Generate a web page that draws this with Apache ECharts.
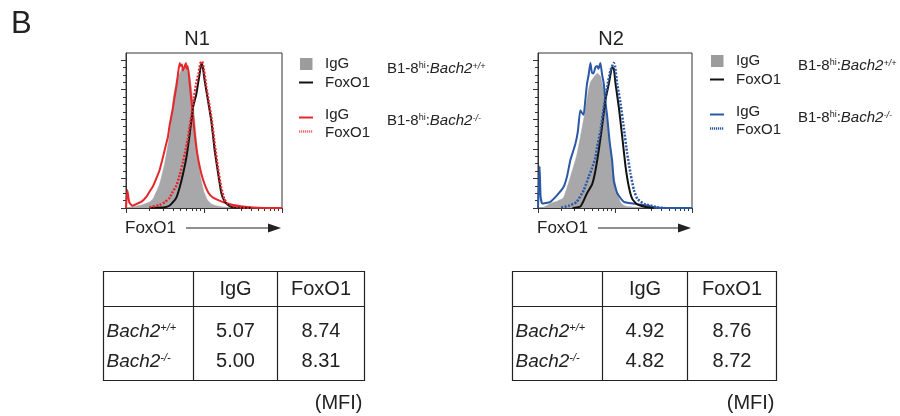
<!DOCTYPE html>
<html>
<head>
<meta charset="utf-8">
<script src="https://cdn.jsdelivr.net/npm/echarts@6/dist/echarts.min.js"></script>
<style>
  html, body { margin: 0; padding: 0; background: #fff; }
  #chart { width: 900px; height: 416px; }
</style>
</head>
<body>
<div id="chart"></div>
<script>
// histogram curves: [FoxO1 intensity, % of max]
const n1IgGWT = [[1, 0], [1.12, 0.5], [1.58, 2], [2.0, 4], [2.21, 6], [2.69, 16], [3.13, 30], [3.63, 50], [4.0, 73], [4.42, 86], [4.88, 91], [5.2, 94], [5.62, 93], [6.0, 96], [6.24, 95], [6.56, 90], [6.89, 82], [7.59, 60], [8.32, 36], [9.12, 20], [10, 11], [11.2, 5], [12.6, 2.5], [15.8, 1], [22.4, 0.3], [39.8, 0], [100, 0]]
const n1IgGKO = [[1.0, 0], [1.04, 12], [1.1, 4], [1.2, 1.5], [1.4, 3], [1.6, 4.5], [1.82, 7.5], [2.0, 11], [2.21, 14.5], [2.45, 20], [2.69, 25.5], [2.9, 32], [3.13, 39], [3.3, 44], [3.45, 48], [3.6, 55], [3.81, 62], [3.95, 66], [4.2, 75], [4.45, 83], [4.65, 91], [4.88, 98], [5.0, 96], [5.2, 97], [5.38, 93], [5.6, 95], [5.85, 98], [6.0, 94], [6.2, 96], [6.56, 84], [6.9, 72], [7.24, 62], [7.6, 50], [7.98, 41], [8.5, 32], [9.27, 23], [10.2, 16], [11.5, 10], [13.1, 7], [17.6, 4], [23.7, 2], [38.9, 0.5], [60, 0], [100, 0]]
const n1FoxWT = [[2.0, 0], [3.16, 0.5], [3.63, 1.7], [4.0, 3.9], [4.42, 7], [4.88, 14], [5.38, 23], [5.94, 34], [6.56, 50], [7.24, 68], [7.98, 77], [8.81, 91], [9.27, 98], [9.66, 95], [10.2, 86], [11.3, 72], [12.4, 59], [13.7, 39], [15.2, 23], [16.7, 10], [18.5, 4.2], [21.4, 1.3], [25, 0.4], [40, 0]]
const n1FoxKO = [[2.0, 0.5], [2.69, 2], [3.16, 4], [3.63, 7], [3.98, 11], [4.42, 15], [4.88, 22], [5.37, 31], [5.75, 38], [6.17, 46], [6.56, 55], [6.92, 63], [7.41, 74], [7.94, 84], [8.51, 91], [9.02, 98], [9.44, 99], [10, 93], [10.7, 82], [11.5, 72], [12.6, 59], [13.8, 42], [15.1, 27], [16.6, 14], [18.2, 6], [20, 3], [22.9, 1.5], [28.2, 0.5], [39.8, 0]]

const n2IgGWT = [[1, 0], [1.18, 0.5], [1.45, 3], [1.74, 4.5], [2.14, 7], [2.63, 21], [3.16, 35], [3.55, 48], [3.98, 62], [4.47, 78], [4.79, 85], [5.25, 88], [5.89, 91], [6.46, 89], [7.08, 80], [7.94, 58], [8.71, 40], [9.55, 24], [10.5, 12], [11.75, 4], [13.2, 1.5], [17.8, 0.5], [31.6, 0], [100, 0]]
const n2IgGKO = [[1.0, 0], [1.05, 28], [1.08, 8], [1.135, 3], [1.43, 4], [1.75, 8.4], [2.14, 14], [2.4, 22], [2.62, 32], [3.05, 43], [3.3, 52], [3.54, 66], [3.75, 64], [3.92, 63], [4.1, 72], [4.33, 84], [4.55, 90], [4.79, 98], [5.05, 91], [5.28, 91], [5.55, 95], [5.85, 96], [6.1, 94], [6.46, 98], [6.8, 90], [7.15, 84], [7.5, 72], [7.91, 62], [8.51, 45], [9.18, 32], [9.66, 18], [10.7, 10], [13.0, 4.2], [19.5, 2.6], [26.3, 1.7], [32.4, 0.5], [40, 0], [100, 0]]
const n2FoxWT = [[2.82, 0], [3.55, 1], [3.92, 5], [4.33, 10], [5.04, 16], [5.56, 25], [6.15, 39], [6.79, 55], [7.52, 73], [8.32, 84], [9.18, 95], [9.66, 94], [10.16, 84], [11.22, 68], [12.42, 48], [13.71, 28], [15.17, 14], [16.75, 6.2], [19.5, 2.4], [25.1, 0.7], [31.6, 0]]
const n2FoxKO = [[2.0, 0.3], [2.51, 1.5], [3.16, 4], [3.92, 12], [4.55, 21], [5.04, 27], [5.56, 34], [5.85, 41], [6.46, 52], [7.15, 68], [7.91, 82], [8.73, 93], [9.66, 98], [10.0, 96], [10.67, 84], [11.8, 70.6], [13.03, 54], [14.42, 36.7], [15.96, 23], [17.62, 12], [19.5, 6.2], [23.8, 2.8], [29.1, 1.7], [35.5, 0.5], [44.7, 0]]

const panelTitles = ['N1', 'N2']
const markers = ['IgG', 'FoxO1']
const genotypes = ['+/+', '-/-']
const n1Mfi = [[5.07, 8.74], [5.00, 8.31]]
const n2Mfi = [[4.92, 8.76], [4.82, 8.72]]

const majorX = [1, 10, 100]
const minorX = [2, 3, 4, 5, 6, 7, 8, 9, 20, 30, 40, 50, 60, 70, 80, 90]
const majorY = [0, 20, 40, 60, 80, 100]
const minorY = [5, 10, 15, 25, 30, 35, 45, 50, 55, 65, 70, 75, 85, 90, 95]

const FONT = '"Liberation Sans", Arial, Helvetica, sans-serif'
const INK = '#222'
const GRAY = '#a8a8aa'
const RED = '#e5262b'
const PINK = '#f06a6a'
const BLUE = '#2b58a6'

const grids = [
  { left: 126, top: 53, width: 156, height: 155 },
  { left: 538, top: 53, width: 154, height: 155 },
]

const xAxes = []
const yAxes = []
grids.forEach((g, gi) => {
  const xb = { type: 'log', logBase: 10, min: 1, max: 100, gridIndex: gi, position: 'bottom',
    axisLabel: { show: false }, splitLine: { show: false } }
  xAxes.push({ ...xb, axisLine: { lineStyle: { color: '#333', width: 1 } },
    axisTick: { customValues: majorX, length: 5, lineStyle: { color: '#333' } } })
  xAxes.push({ ...xb, axisLine: { show: false },
    axisTick: { customValues: minorX, length: 3, lineStyle: { color: '#333' } } })
  const yb = { type: 'value', min: 0, max: 104.7, gridIndex: gi, position: 'left',
    axisLabel: { show: false }, splitLine: { show: false } }
  yAxes.push({ ...yb, axisLine: { show: true, lineStyle: { color: '#333', width: 1 } },
    axisTick: { customValues: majorY, length: 5, lineStyle: { color: '#333' } } })
  yAxes.push({ ...yb, axisLine: { show: false },
    axisTick: { customValues: minorY, length: 3, lineStyle: { color: '#333' } } })
})

const line = (data, gi, color, width, type) => ({
  type: 'line', data, xAxisIndex: gi * 2, yAxisIndex: gi * 2,
  symbol: 'none', smooth: 0.15,
  lineStyle: { color, width, type },
})

const series = [
  { ...line(n1IgGWT, 0, GRAY, 0.5, 'solid'), areaStyle: { color: GRAY, opacity: 1 } },
  line(n1IgGKO, 0, RED, 2, 'solid'),
  line(n1FoxWT, 0, '#111', 2, 'solid'),
  line(n1FoxKO, 0, RED, 2.5, [2, 1.5]),
  { ...line(n2IgGWT, 1, GRAY, 0.5, 'solid'), areaStyle: { color: GRAY, opacity: 1 } },
  line(n2IgGKO, 1, BLUE, 2, 'solid'),
  line(n2FoxWT, 1, '#111', 2, 'solid'),
  line(n2FoxKO, 1, BLUE, 2.5, [2, 1.5]),
]

// text helpers
const txt = (text, x, y, size, align, extra) => ({
  type: 'text', x, y, silent: true,
  style: Object.assign({ text, fontSize: size, fontFamily: FONT, fill: INK,
    textAlign: align || 'left', textVerticalAlign: 'middle' }, extra || {}),
})
const geno = (g, size, prefix) => {
  const sup = Math.round(size * 0.6)
  return {
    text: (prefix ? '{n|B1-8}{s|hi}{n|:}' : '') + '{i|Bach2}{si|' + g + '}',
    rich: {
      n: { fontSize: size, fontFamily: FONT, fill: INK },
      s: { fontSize: sup, fontFamily: FONT, fill: INK, verticalAlign: 'top' },
      i: { fontSize: size, fontFamily: FONT, fill: INK, fontStyle: 'italic' },
      si: { fontSize: sup, fontFamily: FONT, fill: INK, fontStyle: 'italic', verticalAlign: 'top' },
    },
  }
}
const seg = (x1, y1, x2, y2, color, width, dash) => ({
  type: 'line', silent: true, shape: { x1, y1, x2, y2 },
  style: { stroke: color, lineWidth: width, lineDash: dash || null },
})

const graphic = [txt('B', 11, 24, 31)]

// titles, axis names, arrows
const titleX = [197, 611]
const legendX = [299, 710]
const legendDy = [0, -3]
const koColor = [[RED, PINK], [BLUE, BLUE]]
grids.forEach((g, gi) => {
  graphic.push(txt(panelTitles[gi], titleX[gi], 39, 20, 'center'))
  graphic.push(txt('FoxO1', g.left - 1, 228, 17))
  const ax0 = g.left + 60, ax1 = g.left + g.width - 1
  graphic.push(seg(ax0, 228, ax1 - 10, 228, INK, 1.2))
  graphic.push({ type: 'polygon', silent: true,
    shape: { points: [[ax1 - 13, 223.5], [ax1, 228], [ax1 - 13, 232.5]] }, style: { fill: INK } })

  const lx = legendX[gi], dy = legendDy[gi]
  graphic.push({ type: 'rect', silent: true, shape: { x: lx + 1, y: 58 + dy, width: 12.5, height: 12 },
    style: { fill: '#9c9c9e' } })
  graphic.push(seg(lx, 82.5 + dy, lx + 14, 82.5 + dy, '#111', 2))
  graphic.push(seg(lx, 117.5 + dy, lx + 14, 117.5 + dy, koColor[gi][0], 2))
  graphic.push(seg(lx, 131.5 + dy, lx + 14, 131.5 + dy, koColor[gi][1], 2.5, [1.2, 0.8]))
  graphic.push(txt(markers[0], lx + 26, 64 + dy, 15))
  graphic.push(txt(markers[1], lx + 26, 82.5 + dy, 15))
  graphic.push(txt(markers[0], lx + 26, 115 + dy, 15))
  graphic.push(txt(markers[1], lx + 26, 133 + dy, 15))
  graphic.push(txt('', lx + 88, 69 + dy, 15, 'left', geno(genotypes[0], 15, true)))
  graphic.push(txt('', lx + 88, 121 + dy, 15, 'left', geno(genotypes[1], 15, true)))
})

// MFI tables
const tables = [
  { mfi: n1Mfi, x0: 103.5, x1: 364.5, c1: 193.5, c2: 277.5 },
  { mfi: n2Mfi, x0: 512.5, x1: 776.5, c1: 602.5, c2: 687.5 },
]
const rowY = [331.5, 361.5]
tables.forEach(t => {
  const top = 271.5, bot = 380.5, hline = 306.5
  graphic.push({ type: 'rect', silent: true, shape: { x: t.x0, y: top, width: t.x1 - t.x0, height: bot - top },
    style: { fill: null, stroke: INK, lineWidth: 1.2 } })
  graphic.push(seg(t.c1, top, t.c1, bot, INK, 1.2))
  graphic.push(seg(t.c2, top, t.c2, bot, INK, 1.2))
  graphic.push(seg(t.x0, hline, t.x1, hline, INK, 1.2))
  const colC = [(t.c1 + t.c2) / 2, (t.c2 + t.x1) / 2]
  markers.forEach((m, i) => graphic.push(txt(m, colC[i], 289.5, 20, 'center')))
  genotypes.forEach((gt, r) => {
    graphic.push(txt('', t.x0 + 3, rowY[r], 19, 'left', geno(gt, 19, false)))
    t.mfi[r].forEach((v, c) => graphic.push(txt(v.toFixed(2), colC[c], rowY[r], 20, 'center')))
  })
  graphic.push(txt('(MFI)', t.x1 - 2, 403, 20, 'right'))
})

const chart = echarts.init(document.getElementById('chart'))
chart.setOption({
  animation: false,
  backgroundColor: '#fff',
  grid: grids.map(g => ({ ...g, show: true, borderColor: '#333', borderWidth: 1, backgroundColor: 'transparent' })),
  xAxis: xAxes,
  yAxis: yAxes,
  series,
  graphic,
})
</script>
</body>
</html>
